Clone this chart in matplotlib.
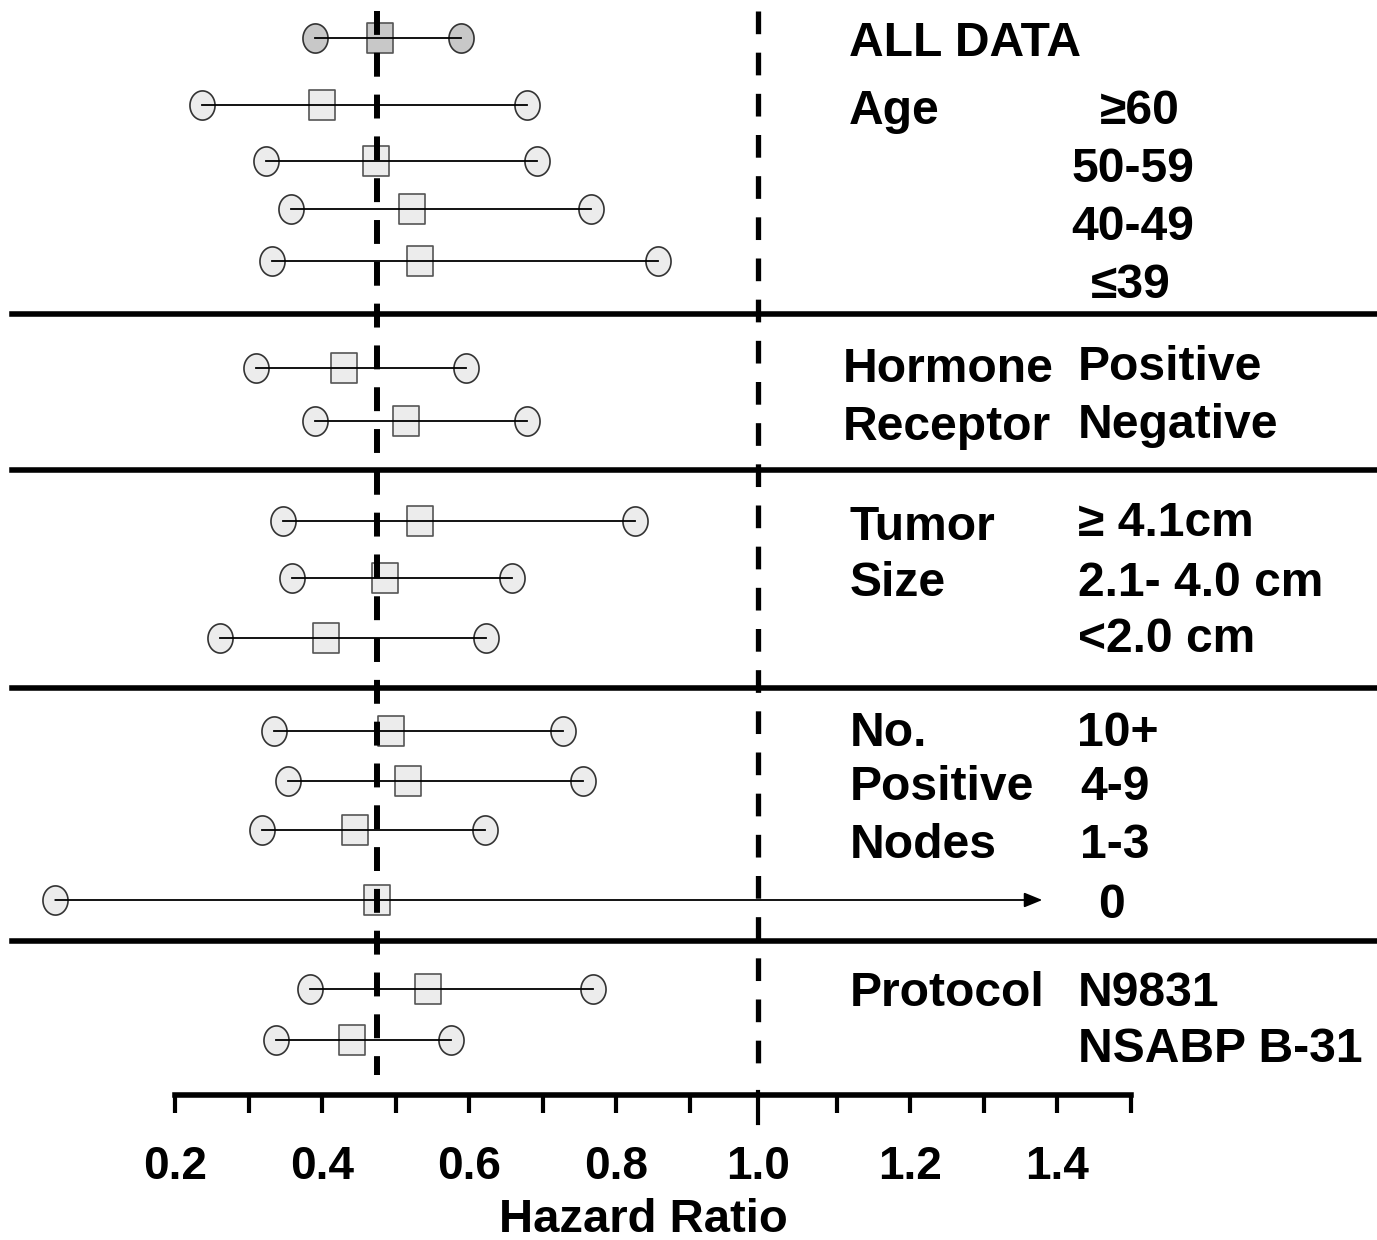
import matplotlib
matplotlib.use("Agg")
import numpy as np
import matplotlib.pyplot as plt
from matplotlib.lines import Line2D
from matplotlib.path import Path

plt.rcParams['font.family'] = ['Liberation Sans', 'DejaVu Sans']
plt.rcParams['font.weight'] = 'bold'

# hazard ratio and 95% CI per subgroup (top to bottom)
subgroups = ["ALL DATA", "≥60", "50-59", "40-49", "≤39",
             "Positive", "Negative",
             "≥ 4.1cm", "2.1- 4.0 cm", "<2.0 cm",
             "10+", "4-9", "1-3", "0",
             "N9831", "NSABP B-31"]
hr = [0.479, 0.400, 0.473, 0.522, 0.533,
      0.430, 0.514,
      0.533, 0.486, 0.405,
      0.494, 0.517, 0.445, 0.475,
      0.544, 0.441]
ci_low = [0.390, 0.237, 0.324, 0.358, 0.332,
          0.310, 0.390,
          0.347, 0.359, 0.261,
          0.335, 0.354, 0.318, 0.037,
          0.384, 0.337]
ci_high = [0.589, 0.679, 0.693, 0.766, 0.857,
           0.596, 0.679,
           0.826, 0.658, 0.623,
           0.728, 0.755, 0.622, 1.380,
           0.769, 0.576]
open_ended = [False] * 13 + [True] + [False] * 2  # upper CI off the scale
overall_hr = 0.475
null_hr = 0.993  # drawn a touch left of 1.0 in the original

# layout (pixel rows of the 1377x1240 canvas)
W, H = 1377, 1240
row_y = [38, 105, 161, 209, 261, 368, 421, 521, 578, 638,
         731, 781, 830, 900, 989, 1040]
sep_y = [314, 470, 688, 941]
axis_y = 1095

# markers in the original are slightly taller than wide
t = np.linspace(0, 2 * np.pi, 60)
oval = Path(np.column_stack([0.86 * np.cos(t), np.sin(t)]), closed=True)
box = Path([(-0.86, -1), (0.86, -1), (0.86, 1), (-0.86, 1), (-0.86, -1)], closed=True)

fig = plt.figure(figsize=(W / 100, H / 100), dpi=100)
ax = fig.add_axes([0, 0, 1, 1])
ax.set_xlim(0.2 - 175 / 735, 0.2 + (W - 175) / 735)
ax.set_ylim(H, 0)

for i, y in enumerate(row_y):
    face = '#c8c8c8' if i == 0 else '#ececec'
    ends = [ci_low[i]] if open_ended[i] else [ci_low[i], ci_high[i]]
    ax.plot(ends, [y] * len(ends), ls='none', marker=oval, ms=21, mfc=face,
            mec='#333333', mew=1.2, zorder=2)
    ax.plot(hr[i], y, ls='none', marker=box, ms=21, mfc=face, mec='#555555',
            mew=1.2, zorder=3)
    if open_ended[i]:
        ax.annotate('', xy=(ci_high[i], y), xytext=(ci_low[i], y),
                    arrowprops=dict(arrowstyle='-|>,head_length=1.1,head_width=0.45',
                                    color='black', lw=1.3, shrinkA=0, shrinkB=0),
                    zorder=4)
    else:
        ax.plot([ci_low[i], ci_high[i]], [y, y], color='black', lw=1.3, zorder=4)

# reference lines
l1, = ax.plot([overall_hr, overall_hr], [11, 1075], color='black', lw=4.3, zorder=5)
l1.set_dashes((4, 3))
l2, = ax.plot([null_hr, null_hr], [11, 1080], color='black', lw=3.8, zorder=5)
l2.set_dashes((4.3, 3.5))
ax.plot([null_hr, null_hr], [1092, 1123], color='black', lw=3, zorder=5)

for y in sep_y:
    fig.add_artist(Line2D([12 / W, 1], [1 - y / H] * 2, color='black', lw=4))

# x axis
for s in ['left', 'top', 'right']:
    ax.spines[s].set_visible(False)
ax.spines['bottom'].set_position(('data', axis_y))
ax.spines['bottom'].set_bounds(0.2, 1.5)
ax.spines['bottom'].set_linewidth(4)
ax.set_yticks([])
ax.set_xticks([0.2, 0.4, 0.6, 0.8, null_hr, 1.2, 1.4])
ax.set_xticklabels(['0.2', '0.4', '0.6', '0.8', '1.0', '1.2', '1.4'])
ax.set_xticks([0.3, 0.5, 0.7, 0.9, 1.1, 1.3, 1.5], minor=True)
ax.tick_params(axis='x', which='both', direction='out', length=13, width=3)
ax.tick_params(axis='x', which='major', labelsize=33, pad=23)
ax.xaxis.get_major_ticks()[4].tick1line.set_visible(False)

fig.text(643 / W, 1 - 1220 / H, 'Hazard Ratio', fontsize=34, ha='center', va='center')


def label(x, y, s, ha='left'):
    fig.text(x / W, 1 - (y + 3) / H, s, fontsize=34.6, ha=ha, va='center')


label(849, 40, 'ALL DATA')
label(849, 108, 'Age')
label(1140, 108, '≥60', 'center')
label(1133, 166, '50-59', 'center')
label(1133, 225, '40-49', 'center')
label(1131, 282, '≤39', 'center')
label(843, 367, 'Hormone')
label(843, 424, 'Receptor')
label(1078, 365, 'Positive')
label(1078, 423, 'Negative')
label(850, 524, 'Tumor')
label(850, 581, 'Size')
label(1078, 521, '≥ 4.1cm')
label(1078, 580, '2.1- 4.0 cm')
label(1078, 637, '<2.0 cm')
label(850, 730, 'No.')
label(850, 785, 'Positive')
label(850, 843, 'Nodes')
label(1077, 730, '10+')
label(1080, 785, '4-9')
label(1080, 843, '1-3')
label(1112, 902, '0', 'center')
label(850, 990, 'Protocol')
label(1078, 990, 'N9831')
label(1078, 1047, 'NSABP B-31')

fig.savefig('out.png', dpi=100)
